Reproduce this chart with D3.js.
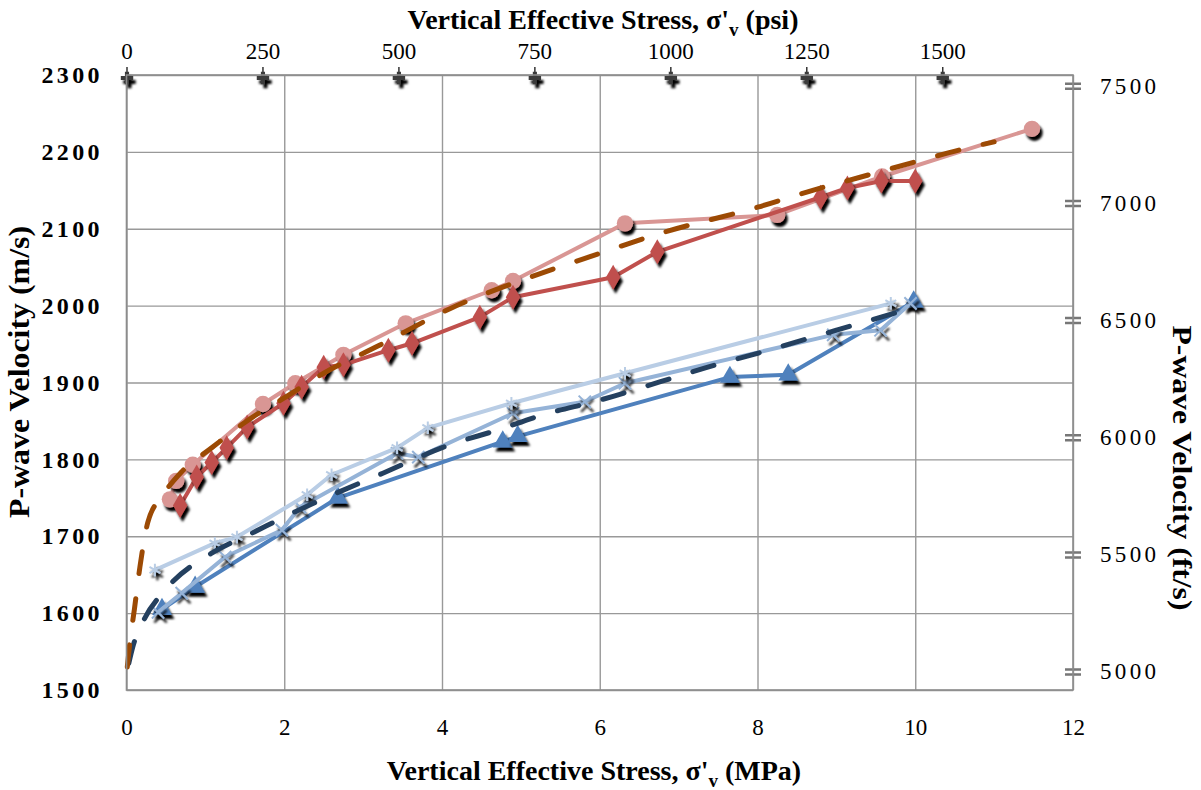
<!DOCTYPE html>
<html>
<head>
<meta charset="utf-8">
<script src="https://cdn.jsdelivr.net/npm/d3@7"></script>
<style>
  body { margin: 0; background: #fff; }
  svg { display: block; }
  text { font-family: "Liberation Serif", "Times New Roman", serif; fill: #000; }
</style>
</head>
<body>
<svg id="svg1"></svg>
<script>
// values: stress in MPa, velocity in m/s
var pinkStress = [0.55, 0.63, 0.84, 1.73, 2.14, 2.75, 3.54, 4.63, 4.90, 6.32, 8.25, 9.58, 11.48];
var pinkVel    = [1748, 1772, 1793, 1872, 1899, 1936, 1977, 2020, 2032, 2107, 2118, 2168, 2230];

var redStress = [0.68, 0.89, 1.08, 1.27, 1.53, 1.99, 2.22, 2.50, 2.75, 3.32, 3.62, 4.48, 4.90, 6.17, 6.73, 8.80, 9.14, 9.57, 10.0];
var redVel    = [1740, 1777, 1796, 1815, 1842, 1873, 1894, 1920, 1923, 1942, 1951, 1985, 2011, 2037, 2070, 2141, 2153, 2162, 2162];

var redFitStress = [0.01, 0.05, 0.1, 0.17, 0.27, 0.45, 0.7, 1.08, 1.5, 2.0, 2.5, 3.2, 4.1, 5.2, 6.0, 6.7, 8.0, 8.7, 9.3, 10.0, 10.7, 11.0];
var redFitVel    = [1530, 1568, 1605, 1660, 1718, 1752, 1784, 1815, 1848, 1880, 1912, 1948, 1996, 2040, 2068, 2092, 2128, 2150, 2167, 2187, 2206, 2213];

var triStress = [0.45, 0.87, 2.68, 4.77, 4.96, 7.65, 8.39, 9.98];
var triVel    = [1605, 1634, 1750, 1823, 1830, 1907, 1910, 2005];

var medStress = [0.40, 0.70, 1.25, 1.97, 2.20, 3.43, 3.70, 4.90, 5.81, 6.32, 8.96, 9.56, 9.94];
var medVel    = [1601, 1626, 1673, 1708, 1738, 1808, 1803, 1860, 1875, 1899, 1962, 1968, 2003];

var liteStress = [0.36, 1.12, 1.40, 2.29, 2.60, 3.43, 3.82, 4.88, 6.32, 9.69];
var liteVel    = [1656, 1691, 1699, 1754, 1780, 1815, 1841, 1873, 1912, 2003];

var blueFitStress = [0.03, 0.08, 0.21, 0.49, 1.08, 1.59, 2.14, 3.25, 4.1, 4.7, 5.28, 6.0, 6.77, 7.37, 8.0, 9.0, 10.0];
var blueFitVel    = [1535, 1556, 1589, 1630, 1678, 1704, 1732, 1782, 1819, 1838, 1858, 1877, 1901, 1920, 1938, 1968, 1998];

var stressTicks = [0, 2, 4, 6, 8, 10, 12];
var velTicks = [1500, 1600, 1700, 1800, 1900, 2000, 2100, 2200, 2300];
var psiTicks = [0, 250, 500, 750, 1000, 1250, 1500];
var ftTicks = [5000, 5500, 6000, 6500, 7000, 7500];

var MPA_TO_PSI = 145.038, MS_TO_FTS = 3.28084;

var margin = {top: 75, right: 128, bottom: 100, left: 126.5},
    width = 1201 - margin.left - margin.right,
    height = 790 - margin.top - margin.bottom;

var svg = d3.select("#svg1")
  .attr("width", 1201)
  .attr("height", 790);

var defs = svg.append("defs");
var shadow = defs.append("filter").attr("id", "shadow")
  .attr("x", "-60%").attr("y", "-60%").attr("width", "220%").attr("height", "220%");
shadow.append("feDropShadow")
  .attr("dx", 2.5).attr("dy", 4).attr("stdDeviation", 0.9)
  .attr("flood-color", "#000").attr("flood-opacity", 1);

var g = svg.append("g")
  .attr("transform", "translate(" + margin.left + "," + margin.top + ")");

var x = d3.scaleLinear().domain([0, 12]).range([0, width]);
var y = d3.scaleLinear().domain([1500, 2300]).range([height, 0]);
var xPsi = d3.scaleLinear().domain([0, 12 * MPA_TO_PSI]).range([0, width]);
var yFt = d3.scaleLinear().domain([1500 * MS_TO_FTS, 2300 * MS_TO_FTS]).range([height, 0]);

var plain = d3.format("d");

// grid
g.append("g")
  .attr("transform", "translate(0," + height + ")")
  .call(d3.axisBottom(x).tickValues(stressTicks).tickSize(-height).tickFormat(""))
  .call(function(s) { s.select(".domain").remove(); })
  .selectAll("line").attr("stroke", "#999").attr("stroke-width", 1.4);

g.append("g")
  .call(d3.axisLeft(y).tickValues(velTicks).tickSize(-width).tickFormat(""))
  .call(function(s) { s.select(".domain").remove(); })
  .selectAll("line").attr("stroke", "#999").attr("stroke-width", 1.4);

// bottom axis labels
var xAxis = g.append("g")
  .attr("transform", "translate(0," + height + ")")
  .call(d3.axisBottom(x).tickValues(stressTicks).tickFormat(plain).tickSize(0).tickPadding(29));
xAxis.select(".domain").remove();
xAxis.selectAll("text").style("font-size", "23px").style("font-family", "Liberation Serif");

// left axis labels
var yAxis = g.append("g")
  .call(d3.axisLeft(y).tickValues(velTicks).tickFormat(plain).tickSize(0).tickPadding(27));
yAxis.select(".domain").remove();
yAxis.selectAll("text").style("font-size", "24px").style("font-weight", "bold")
  .style("font-family", "Liberation Serif")
  .attr("textLength", 58).attr("lengthAdjust", "spacing");

// top axis (psi)
var topAxis = g.append("g")
  .call(d3.axisTop(xPsi).tickValues(psiTicks).tickFormat(plain).tickSize(0).tickPadding(16));
topAxis.select(".domain").remove();
topAxis.selectAll("text").style("font-size", "23px").style("font-family", "Liberation Serif");

// right axis (ft/s)
var rightAxis = g.append("g")
  .attr("transform", "translate(" + width + ",0)")
  .call(d3.axisRight(yFt).tickValues(ftTicks).tickFormat(plain).tickSize(0).tickPadding(27));
rightAxis.select(".domain").remove();
rightAxis.selectAll("text").style("font-size", "23px").style("font-family", "Liberation Serif")
  .attr("textLength", 56).attr("lengthAdjust", "spacing");

// markers of the secondary axes
rightAxis.selectAll(".tick").append("path")
  .attr("d", "M-8,-2.5H8M-8,2.5H8")
  .attr("stroke", "#777").attr("stroke-width", 2.5);

topAxis.selectAll(".tick").append("line")
  .attr("y1", -8).attr("y2", 0).attr("stroke", "#333").attr("stroke-width", 1.5);
topAxis.selectAll(".tick").append("path")
  .attr("d", d3.symbol().type(d3.symbolCross).size(85))
  .attr("transform", "translate(0,3)")
  .attr("fill", "#3a3a3a")
  .attr("filter", "url(#shadow)");

function pairs(xs, ys) {
  return xs.map(function(d, i) { return [d, ys[i]]; });
}

var line = d3.line()
  .x(function(d) { return x(d[0]); })
  .y(function(d) { return y(d[1]); });

var smooth = d3.line()
  .curve(d3.curveMonotoneX)
  .x(function(d) { return x(d[0]); })
  .y(function(d) { return y(d[1]); });

function series(data, color, symbol, size, stroked) {
  var s = g.append("g");
  s.append("path")
    .datum(data)
    .attr("d", line)
    .attr("fill", "none")
    .attr("stroke", color)
    .attr("stroke-width", 4)
    .attr("stroke-linejoin", "round");
  s.selectAll("path.mark")
    .data(data)
    .enter()
    .append("path")
      .attr("class", "mark")
      .attr("d", d3.symbol().type(symbol).size(size))
      .attr("transform", function(d) { return "translate(" + x(d[0]) + "," + y(d[1]) + ")"; })
      .attr("fill", stroked ? "none" : color)
      .attr("stroke", stroked ? color : "none")
      .attr("stroke-width", 2)
      .attr("filter", "url(#shadow)");
}

function trend(data, color) {
  g.append("path")
    .datum(data)
    .attr("d", smooth)
    .attr("fill", "none")
    .attr("stroke", color)
    .attr("stroke-width", 5)
    .attr("stroke-linecap", "round")
    .attr("stroke-dasharray", "22,25");
}

// blue group
series(pairs(triStress, triVel), "#4f81bd", d3.symbolTriangle, 170, false);
series(pairs(medStress, medVel), "#95b3d7", d3.symbolX, 100, true);
series(pairs(liteStress, liteVel), "#b9cde5", d3.symbolAsterisk, 110, true);
trend(pairs(blueFitStress, blueFitVel), "#24405f");

// red group
series(pairs(pinkStress, pinkVel), "#d99694", d3.symbolCircle, 210, false);
series(pairs(redStress, redVel), "#c0504d", d3.symbolDiamond, 180, false);
trend(pairs(redFitStress, redFitVel), "#9c4a04");

// plot frame
g.append("rect")
  .attr("width", width).attr("height", height)
  .attr("fill", "none").attr("stroke", "#8c8c8c").attr("stroke-width", 1.6);

// titles
function title(sel, unit) {
  sel.append("tspan").text("Vertical Effective Stress, σ'");
  sel.append("tspan").attr("dy", 7).style("font-size", "19px").text("v");
  sel.append("tspan").attr("dy", -7).text(" (" + unit + ")");
}

svg.append("text")
  .attr("x", 603).attr("y", 29)
  .attr("text-anchor", "middle")
  .style("font-size", "28px").style("font-weight", "bold")
  .call(title, "psi");

svg.append("text")
  .attr("x", 594).attr("y", 780)
  .attr("text-anchor", "middle")
  .style("font-size", "28px").style("font-weight", "bold")
  .call(title, "MPa");

svg.append("text")
  .attr("transform", "translate(29,372) rotate(-90)")
  .attr("text-anchor", "middle")
  .style("font-size", "29px").style("font-weight", "bold")
  .attr("textLength", 292).attr("lengthAdjust", "spacingAndGlyphs")
  .text("P-wave Velocity (m/s)");

svg.append("text")
  .attr("transform", "translate(1173,468) rotate(90)")
  .attr("text-anchor", "middle")
  .style("font-size", "27px").style("font-weight", "bold")
  .attr("textLength", 285).attr("lengthAdjust", "spacingAndGlyphs")
  .text("P-wave Velocity (ft/s)");
</script>
</body>
</html>
